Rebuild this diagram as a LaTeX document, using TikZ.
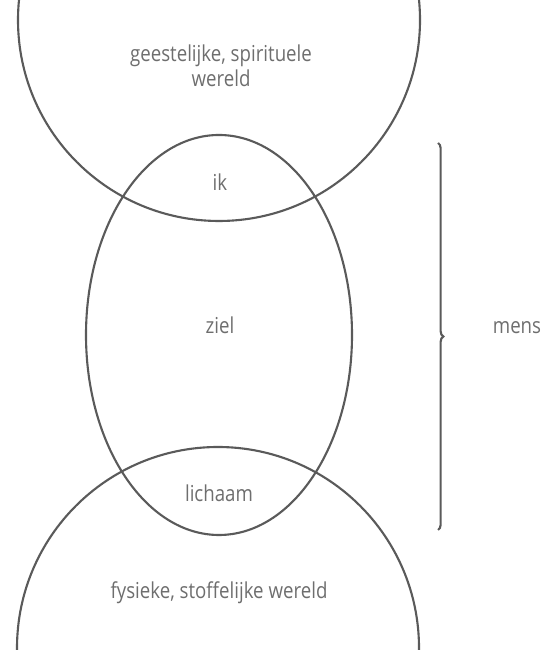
\documentclass[tikz,border=0pt]{standalone}
\usepackage{fontspec}
\setmainfont{Open Sans}[FakeStretch=0.85]
\usetikzlibrary{decorations.pathreplacing}
\definecolor{Line}{HTML}{5A5A5A}
\definecolor{Label}{HTML}{6E6E6E}

\begin{document}
\begin{tikzpicture}[
  world/.style={draw=Line,line width=1.2pt},
  lbl/.style={text=Label,font=\fontsize{12.5}{14.5}\selectfont,align=center,inner sep=1pt},
  bracket/.style={draw=Line,line width=1.2pt,decorate,decoration={brace,amplitude=3pt}}
]
  \path[use as bounding box] (0,0) rectangle (11.04,13);

  % werelden en mens
  \draw[world] (4.38,12.6) circle (4.02);
  \draw[world] (4.36,0.04) circle (4.02);
  \draw[world] (4.38,6.3) ellipse (2.66 and 4.0);

  \node[lbl] (geest) at (4.42,11.68) {geestelijke, spirituele\\wereld};
  \node[lbl] (ik) at (4.40,9.36) {ik};
  \node[lbl] (ziel) at (4.40,6.50) {ziel};
  \node[lbl] (lichaam) at (4.38,3.14) {lichaam};
  \node[lbl] (fysiek) at (4.38,1.14) {fysieke, stoffelijke wereld};

  \coordinate (top) at (8.76,10.14);
  \coordinate (bottom) at (8.76,2.40);
  \draw[bracket] (top) -- (bottom);
  \node[lbl] (mens) at (10.34,6.44) {mens};
\end{tikzpicture}
\end{document}
